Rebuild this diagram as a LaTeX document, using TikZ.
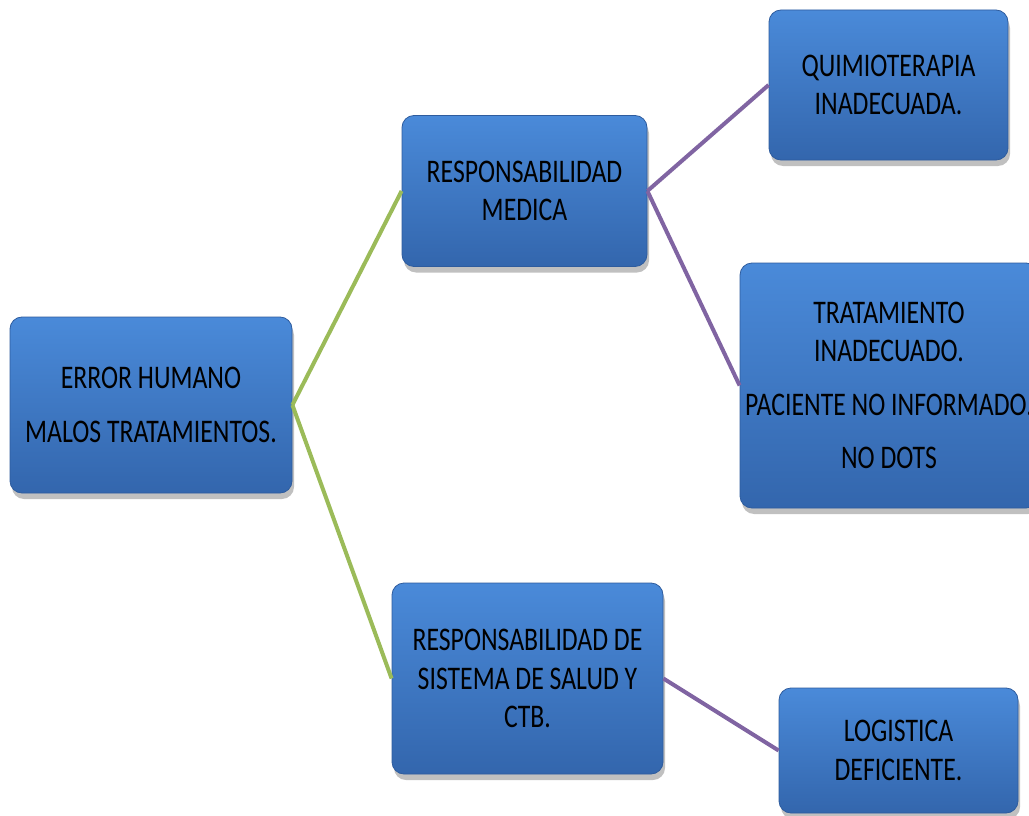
\documentclass[tikz,border=0pt]{standalone}
\usepackage{fontspec}
\setmainfont{Carlito}[FakeStretch=0.78]
\usetikzlibrary{shadows}
\definecolor{boxtop}{HTML}{4A8AD9}
\definecolor{boxbot}{HTML}{3366AD}
\definecolor{boxedge}{HTML}{2E5C9E}
\definecolor{greenline}{HTML}{9BBB59}
\definecolor{purpleline}{HTML}{8064A2}
\tikzset{
  box/.style={rectangle, rounded corners=12pt, draw=boxedge, line width=0.8pt,
    top color=boxtop, bottom color=boxbot, text=black, align=center,
    font=\fontsize{33}{38.5}\selectfont, inner sep=2pt,
    drop shadow={shadow xshift=2pt, shadow yshift=-6pt, opacity=0.35, fill=black!70}},
  gline/.style={draw=greenline, line width=4pt},
  pline/.style={draw=purpleline, line width=4pt},
}
\begin{document}
\begin{tikzpicture}[x=1pt,y=-1pt]
\clip (0,0) rectangle (1029,816);
\fill[white] (0,0) rectangle (1029,816);
\node[box, minimum width=282pt, minimum height=176pt] (root) at (151,405)
  {ERROR HUMANO\\[15pt]MALOS TRATAMIENTOS.};
\node[box, minimum width=245pt, minimum height=151pt] (rm) at (524.5,191)
  {RESPONSABILIDAD\\MEDICA};
\node[box, minimum width=271pt, minimum height=191pt] (rs) at (527.5,678.5)
  {RESPONSABILIDAD DE\\SISTEMA DE SALUD Y\\CTB.};
\node[box, minimum width=239pt, minimum height=150pt] (q) at (888.5,85)
  {QUIMIOTERAPIA\\INADECUADA.};
\node[box, minimum width=298pt, minimum height=245pt] (t) at (889,385.5)
  {TRATAMIENTO\\INADECUADO.\\[15pt]PACIENTE NO INFORMADO.\hspace*{8pt}\\[15pt]NO DOTS};
\node[box, minimum width=239pt, minimum height=125pt] (l) at (898.5,750.5)
  {LOGISTICA\\DEFICIENTE.};
\draw[gline] (root.east) -- (rm.west);
\draw[gline] (root.east) -- (rs.west);
\draw[pline] (rm.east) -- (q.west);
\draw[pline] (rm.east) -- (t.west);
\draw[pline] (rs.east) -- (l.west);
\end{tikzpicture}
\end{document}
